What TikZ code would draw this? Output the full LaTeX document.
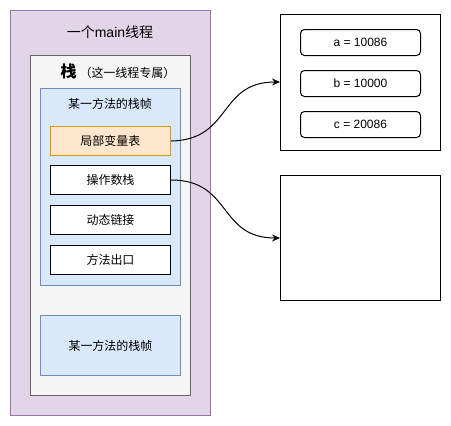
\documentclass[tikz,border=0pt]{standalone}
\usepackage{fontspec}
\setmainfont{Liberation Sans}
\newfontfamily\cjk{Noto Sans CJK SC}
\usetikzlibrary{arrows.meta}
\definecolor{thfill}{HTML}{E1D5E7}\definecolor{thline}{HTML}{9673A6}
\definecolor{stfill}{HTML}{F5F5F5}\definecolor{stline}{HTML}{666666}
\definecolor{frfill}{HTML}{DAE8FC}\definecolor{frline}{HTML}{6C8EBF}
\definecolor{lvfill}{HTML}{FFE6CC}\definecolor{lvline}{HTML}{D79B00}
\tikzset{
  rect/.style={draw, line width=1pt, inner sep=0pt, anchor=north west},
  plain/.style={rect, fill=white, draw=black},
  item/.style={plain, minimum width=120pt, minimum height=29pt, font=\cjk\fontsize{12}{14}\selectfont},
  val/.style={draw=black, line width=1pt, rounded corners=4pt, fill=white, inner sep=0pt, anchor=north west,
     minimum width=120pt, minimum height=26pt, font=\fontsize{12}{14}\selectfont},
  txt/.style={inner sep=0pt},
  conn/.style={line width=1pt, -{Stealth[length=8pt,width=7pt]}},
}
\begin{document}
\begin{tikzpicture}[x=1pt,y=-1pt]
\useasboundingbox (0,0) rectangle (451,426);
\node[rect, fill=thfill, draw=thline, minimum width=200pt, minimum height=405pt] (thread) at (10,10) {};
\node[txt, font=\fontsize{14}{16}\selectfont] (threadlbl) at (110,32) {{\cjk 一个}main{\cjk 线程}};
\node[rect, fill=stfill, draw=stline, minimum width=160pt, minimum height=340pt] (stack) at (30,55) {};
\node[txt] (stacklbl) at (118,71) {{\cjk\bfseries\fontsize{16}{18}\selectfont 栈}\hspace{3pt}{\cjk\fontsize{12}{14}\selectfont （这一线程专属）}};
\node[rect, fill=frfill, draw=frline, minimum width=140pt, minimum height=197pt] (frame1) at (40,88) {};
\node[txt, font=\cjk\fontsize{12}{14}\selectfont] (frame1lbl) at (110,104) {某一方法的栈帧};
\node[item, fill=lvfill, draw=lvline] (locals) at (50,126) {局部变量表};
\node[item] (operand) at (50,165) {操作数栈};
\node[item] (dynlink) at (50,205) {动态链接};
\node[item] (retaddr) at (50,245) {方法出口};
\node[rect, fill=frfill, draw=frline, minimum width=140pt, minimum height=60pt, font=\cjk\fontsize{12}{14}\selectfont] (frame2) at (40,315) {某一方法的栈帧};
\node[plain, minimum width=160pt, minimum height=136pt] (table) at (280,14) {};
\node[val] (va) at (300,29) {a = 10086};
\node[val] (vb) at (300,70) {b = 10000};
\node[val] (vc) at (300,111) {c = 20086};
\node[plain, minimum width=160pt, minimum height=125pt] (opbox) at (280,175) {};
\coordinate (t1) at (table.west |- 0,82);
\coordinate (t2) at (opbox.west |- 0,238);
\draw[conn] (locals.east) .. controls (232,140) and (218,82) .. (t1);
\draw[conn] (operand.east) .. controls (232,180) and (218,238) .. (t2);
\end{tikzpicture}
\end{document}
